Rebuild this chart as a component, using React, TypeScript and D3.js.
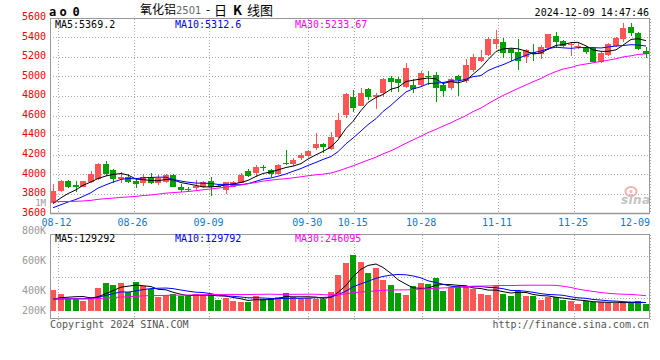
import React from "react";
import * as d3 from "d3";

// ---- data ----
const dates = [
  "08-09", "08-12", "08-13", "08-14", "08-15", "08-16", "08-19", "08-20", "08-21", "08-22", "08-23",
  "08-26", "08-27", "08-28", "08-29", "08-30", "09-02", "09-03", "09-04", "09-05", "09-06",
  "09-09", "09-10", "09-11", "09-12", "09-13", "09-18", "09-19", "09-20", "09-23", "09-24", "09-25", "09-26", "09-27",
  "09-30", "10-08", "10-09", "10-10", "10-11", "10-14", "10-15", "10-16", "10-17", "10-18",
  "10-21", "10-22", "10-23", "10-24", "10-25", "10-28", "10-29", "10-30", "10-31", "11-01",
  "11-04", "11-05", "11-06", "11-07", "11-08", "11-11", "11-12", "11-13", "11-14", "11-15",
  "11-18", "11-19", "11-20", "11-21", "11-22", "11-25", "11-26", "11-27", "11-28", "11-29",
  "12-02", "12-03", "12-04", "12-05", "12-06", "12-09",
];

const opens = [
  3709, 3832, 3931, 3893, 3873, 3924, 3948, 4105, 4043, 3948,
  3975, 3934, 3907, 3968, 3914, 3917, 3995, 3873, 3849, 3856,
  3873, 3931, 3883, 3839, 3873, 3914, 4036, 4009, 4070, 4043,
  4002, 4118, 4105, 4162, 4186, 4271, 4309, 4255, 4384, 4606,
  4786, 4701, 4868, 4786, 4834, 4981, 4970, 4895, 4912, 4916,
  5001, 5014, 4912, 4878, 5004, 4957, 5066, 5161, 5219, 5332,
  5352, 5277, 5247, 5202, 5247, 5230, 5287, 5414, 5366, 5318,
  5311, 5304, 5287, 5151, 5219, 5311, 5380, 5502, 5448, 5264,
];
const highs = [
  3900, 3938, 3945, 3931, 3935, 4033, 4118, 4135, 4050, 4026,
  4002, 3958, 4002, 4009, 3995, 4000, 4000, 3897, 3873, 3941,
  3931, 3968, 3890, 3924, 3934, 4009, 4053, 4094, 4094, 4053,
  4101, 4248, 4162, 4214, 4248, 4418, 4323, 4435, 4630, 4827,
  4861, 4878, 4878, 4827, 4981, 5004, 4991, 5141, 4970, 5052,
  5052, 5049, 4930, 4981, 5014, 5175, 5226, 5270, 5400, 5475,
  5390, 5287, 5383, 5277, 5332, 5321, 5434, 5454, 5373, 5356,
  5339, 5311, 5298, 5247, 5339, 5400, 5536, 5550, 5458, 5304,
];
const lows = [
  3700, 3822, 3855, 3822, 3865, 3915, 3945, 3985, 3907, 3914,
  3914, 3856, 3883, 3900, 3893, 3910, 3870, 3822, 3815, 3839,
  3862, 3780, 3866, 3798, 3870, 3910, 3975, 3975, 4036, 3975,
  3992, 4094, 4088, 4145, 4173, 4248, 4220, 4248, 4367, 4578,
  4640, 4698, 4759, 4664, 4786, 4844, 4844, 4878, 4834, 4900,
  4912, 4742, 4793, 4861, 4800, 4929, 5049, 5151, 5209, 5277,
  5185, 5161, 5066, 5141, 5161, 5175, 5270, 5287, 5304, 5212,
  5284, 5230, 5151, 5134, 5209, 5304, 5356, 5414, 5270, 5185,
];
const closes = [
  3828, 3931, 3873, 3873, 3931, 4002, 4105, 4002, 3955, 3975,
  3924, 3900, 3975, 3907, 3961, 3995, 3873, 3839, 3842, 3883,
  3917, 3873, 3873, 3917, 3924, 3992, 3982, 4077, 4067, 4002,
  4094, 4108, 4145, 4196, 4237, 4309, 4282, 4377, 4555, 4820,
  4674, 4834, 4793, 4807, 4970, 4947, 4929, 5090, 4871, 5035,
  4995, 4885, 4854, 4974, 4963, 5117, 5202, 5195, 5383, 5383,
  5243, 5243, 5161, 5270, 5230, 5298, 5434, 5356, 5311, 5330,
  5315, 5253, 5151, 5236, 5332, 5390, 5492, 5441, 5277, 5230,
];
const volumes = [
  331000, 267000, 187000, 187000, 160000, 219000, 363000, 448000, 411000, 443000,
  293000, 459000, 395000, 341000, 224000, 251000, 267000, 229000, 229000, 267000,
  251000, 267000, 176000, 208000, 160000, 144000, 133000, 240000, 187000, 203000,
  219000, 283000, 219000, 187000, 208000, 192000, 187000, 304000, 571000, 768000,
  891000, 784000, 608000, 688000, 491000, 411000, 283000, 251000, 395000, 448000,
  427000, 517000, 320000, 373000, 395000, 395000, 341000, 267000, 251000, 395000,
  267000, 235000, 320000, 240000, 240000, 171000, 213000, 213000, 171000, 155000,
  107000, 155000, 133000, 144000, 125000, 122000, 125000, 140000, 150000, 110000,
];
const priorCloses = [
  3840, 3860, 3830, 3810, 3820, 3790, 3800, 3770, 3760, 3780,
  3740, 3720, 3730, 3700, 3690, 3710, 3680, 3660, 3640, 3640,
  3620, 3600, 3610, 3620, 3620, 3640, 3660, 3680, 3700,
];
const priorVolumes = [
  210000, 190000, 200000, 185000, 175000, 220000, 195000, 180000, 170000, 205000,
  190000, 185000, 200000, 215000, 180000, 175000, 195000, 190000, 185000, 155000,
  180000, 170000, 175000, 175000, 175000, 160000, 150000, 145000, 149000,
];

const priceTicks = [3600, 3800, 4000, 4200, 4400, 4600, 4800, 5000, 5200, 5400, 5600];
const dateTickLabels = ["08-12", "08-26", "09-09", "09-30", "10-15", "10-28", "11-11", "11-25", "12-09"];
const volTickLabels = ["800K", "600K", "400K", "200K"];
const maPeriods = [5, 10, 30];
const maColors = ["#000000", "#0000ff", "#ff00ff"];
const priceMaLabels = ["MA5:5369.2", "MA10:5312.6", "MA30:5233.67"];
const volMaLabels = ["MA5:129292", "MA10:129792", "MA30:246095"];
const volMax = 1220000;

const UP = "#ff5555";
const DOWN = "#00a000";
const GRID = "#aaaaaa";
const FRAME = "#999999";
const MONO = "'DejaVu Sans Mono', monospace";
const CJK = "'Noto Sans CJK SC', sans-serif";

function sma(prior: number[], vals: number[], n: number): number[] {
  const all = prior.concat(vals);
  const off = prior.length;
  return vals.map((_, i) => d3.mean(all.slice(off + i - n + 1, off + i + 1)) as number);
}

export default function App() {
  const L = 50, R = 650;
  const pTop = 18.5, pBot = 213.5;
  const vTop = 234.5, vBot = 318.5, vBase = 310.7;

  const x = d3.scaleBand<string>().domain(dates).range([L, R]).paddingInner(0).paddingOuter(0);
  const gx = d3.scaleLinear().domain([0, dates.length - 1]).range([L, R]);
  const y = d3.scaleLinear().domain([3600, 5600]).range([213.4, 17.8]);
  const yv = d3.scaleLinear().domain([0, volMax]).range([vBase, vTop]);
  const volLabelY = d3.scaleOrdinal<string, number>().domain(volTickLabels).range([234, 264, 294, 314]);
  const volGrid = d3.scaleLinear().domain([0, 4]).range([vTop, vBot]);

  const left = (d: string) => Math.round(x(d) as number);
  const cx = (d: string) => left(d) + 3;

  const priceMAs = maPeriods.map((n) => sma(priorCloses, closes, n));
  const volMAs = maPeriods.map((n) => sma(priorVolumes, volumes, n));

  const pLine = d3.line<number>().x((_, i) => cx(dates[i])).y((v) => y(v));
  const vLine = d3.line<number>().x((_, i) => cx(dates[i])).y((v) => yv(v));

  const gridIdx = dateTickLabels.map((lab) => dates.indexOf(lab));

  return (
    <svg width={660} height={360} style={{ display: "block", position: "absolute", left: 0, top: 0, background: "#fff" }}>
      <defs>
        <clipPath id="pclip"><rect x={L} y={pTop} width={R - L} height={pBot - pTop} /></clipPath>
        <clipPath id="vclip"><rect x={L} y={vTop} width={R - L} height={vBot - vTop} /></clipPath>
      </defs>

      {/* header */}
      <text x={49} y={16} fontFamily={MONO} fontWeight="bold" fontSize={12} fill="#000">a</text>
      <text x={59.5} y={16} fontFamily={MONO} fontWeight="bold" fontSize={12} fill="#000">o</text>
      <text x={72.5} y={16} fontFamily={MONO} fontWeight="bold" fontSize={12} fill="#000">0</text>
      <text x={140} y={14} fontFamily={CJK} fontSize={12} fill="#000">氧化铝</text>
      <text x={176} y={14} fontFamily="'DejaVu Sans', sans-serif" fontSize={10} fill="#666">2501</text>
      <text x={206} y={14} fontFamily={CJK} fontSize={12} fill="#000">-</text>
      <text x={214} y={14.5} fontFamily={CJK} fontSize={13} fill="#000">日</text>
      <text x={233} y={14.5} fontFamily={CJK} fontSize={13} fontWeight="bold" fill="#000">K</text>
      <text x={247} y={14.5} fontFamily={CJK} fontSize={13} fill="#000">线图</text>
      <text x={649} y={16} textAnchor="end" fontFamily={MONO} fontSize={10} fill="#000">2024-12-09 14:47:46</text>
      <path d="M620,28.5H626M623,23V28.5" stroke={UP} strokeWidth={1} shapeRendering="crispEdges" />
      <path d="M628,28.5H634M631,23V28.5" stroke={DOWN} strokeWidth={1} shapeRendering="crispEdges" />

      {/* price grid */}
      {priceTicks.filter((t) => t > 3600 && t < 5600).map((t) => (
        <line key={"pg" + t} x1={L} x2={R} y1={Math.round(y(t)) + 0.5} y2={Math.round(y(t)) + 0.5}
          stroke={GRID} strokeDasharray="1,2" shapeRendering="crispEdges" />
      ))}
      {gridIdx.map((i) => (
        <line key={"pvg" + i} x1={Math.round(gx(i)) + 0.5} x2={Math.round(gx(i)) + 0.5} y1={pTop} y2={pBot}
          stroke={GRID} strokeDasharray="1,2" shapeRendering="crispEdges" />
      ))}

      {/* price labels */}
      {priceTicks.map((t) => (
        <text key={"pl" + t} x={46} y={y(t) + 2.3} textAnchor="end" fontFamily={MONO} fontSize={10} fill="#ee0000">{t}</text>
      ))}
      <text x={46} y={205.5} textAnchor="end" fontFamily={MONO} fontSize={9} fill="#999">1M</text>

      {/* watermark */}
      <ellipse cx={631} cy={191.5} rx={5.5} ry={4.5} fill="none" stroke="#f3b0b0" strokeWidth={2} />
      <circle cx={631} cy={191.5} r={1.5} fill="#f3b0b0" />
      <text x={621} y={204} fontFamily="'DejaVu Sans', sans-serif" fontStyle="italic" fontWeight="bold" fontSize={12}
        fill="#c4c4c4" textLength={29}>sina</text>

      {/* candles */}
      <g clipPath="url(#pclip)">
        {dates.map((d, i) => {
          const o = opens[i], c = closes[i];
          const up = c >= o;
          const col = up ? UP : DOWN;
          const top = Math.round(y(Math.max(o, c)));
          const bot = Math.round(y(Math.min(o, c)));
          const wx = cx(d) + 0.5;
          return (
            <g key={"c" + d}>
              <line x1={wx} x2={wx} y1={Math.round(y(highs[i]))} y2={Math.round(y(lows[i]))} stroke={col} shapeRendering="crispEdges" />
              <rect x={left(d)} y={top} width={6} height={Math.max(1, bot - top)} fill={col} shapeRendering="crispEdges" />
            </g>
          );
        })}
        {priceMAs.map((ma, k) => (
          <path key={"pma" + k} d={pLine(ma) as string} fill="none" stroke={maColors[k]} strokeWidth={1} />
        ))}
      </g>

      {/* price frame */}
      <rect x={L + 0.5} y={pTop} width={R - L - 1} height={pBot - pTop} fill="none" stroke={FRAME} strokeWidth={1} shapeRendering="crispEdges" />
      <line x1={L} x2={R} y1={pBot} y2={pBot} stroke={FRAME} strokeWidth={1.5} />

      {/* MA legend price */}
      {priceMaLabels.map((s, k) => (
        <text key={"pml" + k} x={55 + 120 * k} y={27.5} fontFamily={MONO} fontSize={10} fill={maColors[k]}>{s}</text>
      ))}

      {/* date labels */}
      {gridIdx.map((i, k) => {
        const tx = Math.min(gx(i) - 1, R - 15);
        return (
          <text key={"dl" + k} x={tx} y={225.5} textAnchor="middle" fontFamily={MONO} fontSize={10} fill="#0a7bd0">
            {dateTickLabels[k]}
          </text>
        );
      })}

      {/* volume grid */}
      {[1, 2, 3].map((k) => (
        <line key={"vg" + k} x1={L} x2={R} y1={Math.round(volGrid(k)) + 0.5} y2={Math.round(volGrid(k)) + 0.5}
          stroke={GRID} strokeDasharray="1,2" shapeRendering="crispEdges" />
      ))}
      {gridIdx.map((i) => (
        <line key={"vvg" + i} x1={Math.round(gx(i)) + 0.5} x2={Math.round(gx(i)) + 0.5} y1={vTop} y2={vBot + 2}
          stroke={GRID} strokeDasharray="1,2" shapeRendering="crispEdges" />
      ))}
      {volTickLabels.map((s) => (
        <text key={"vl" + s} x={46} y={volLabelY(s)} textAnchor="end" fontFamily={MONO} fontSize={10} fill="#999">{s}</text>
      ))}

      {/* volume bars */}
      <g clipPath="url(#vclip)">
        {dates.map((d, i) => {
          const up = closes[i] >= opens[i];
          const t = Math.round(yv(volumes[i]));
          return (
            <rect key={"v" + d} x={left(d)} y={t} width={6} height={Math.round(vBase) - t}
              fill={up ? UP : DOWN} shapeRendering="crispEdges" />
          );
        })}
        {volMAs.map((ma, k) => (
          <path key={"vma" + k} d={vLine(ma) as string} fill="none" stroke={maColors[k]} strokeWidth={1} />
        ))}
      </g>

      {/* volume frame */}
      <rect x={L + 0.5} y={vTop} width={R - L - 1} height={vBot - vTop} fill="none" stroke={FRAME} strokeWidth={1} shapeRendering="crispEdges" />

      {volMaLabels.map((s, k) => (
        <text key={"vml" + k} x={55 + 120 * k} y={242} fontFamily={MONO} fontSize={10} fill={maColors[k]}>{s}</text>
      ))}

      {/* footer */}
      <text x={50} y={328} fontFamily={MONO} fontSize={10} fill="#555">Copyright 2024 SINA.COM</text>
      <text x={649} y={328} textAnchor="end" fontFamily={MONO} fontSize={10} fill="#555">http://finance.sina.com.cn</text>
    </svg>
  );
}
